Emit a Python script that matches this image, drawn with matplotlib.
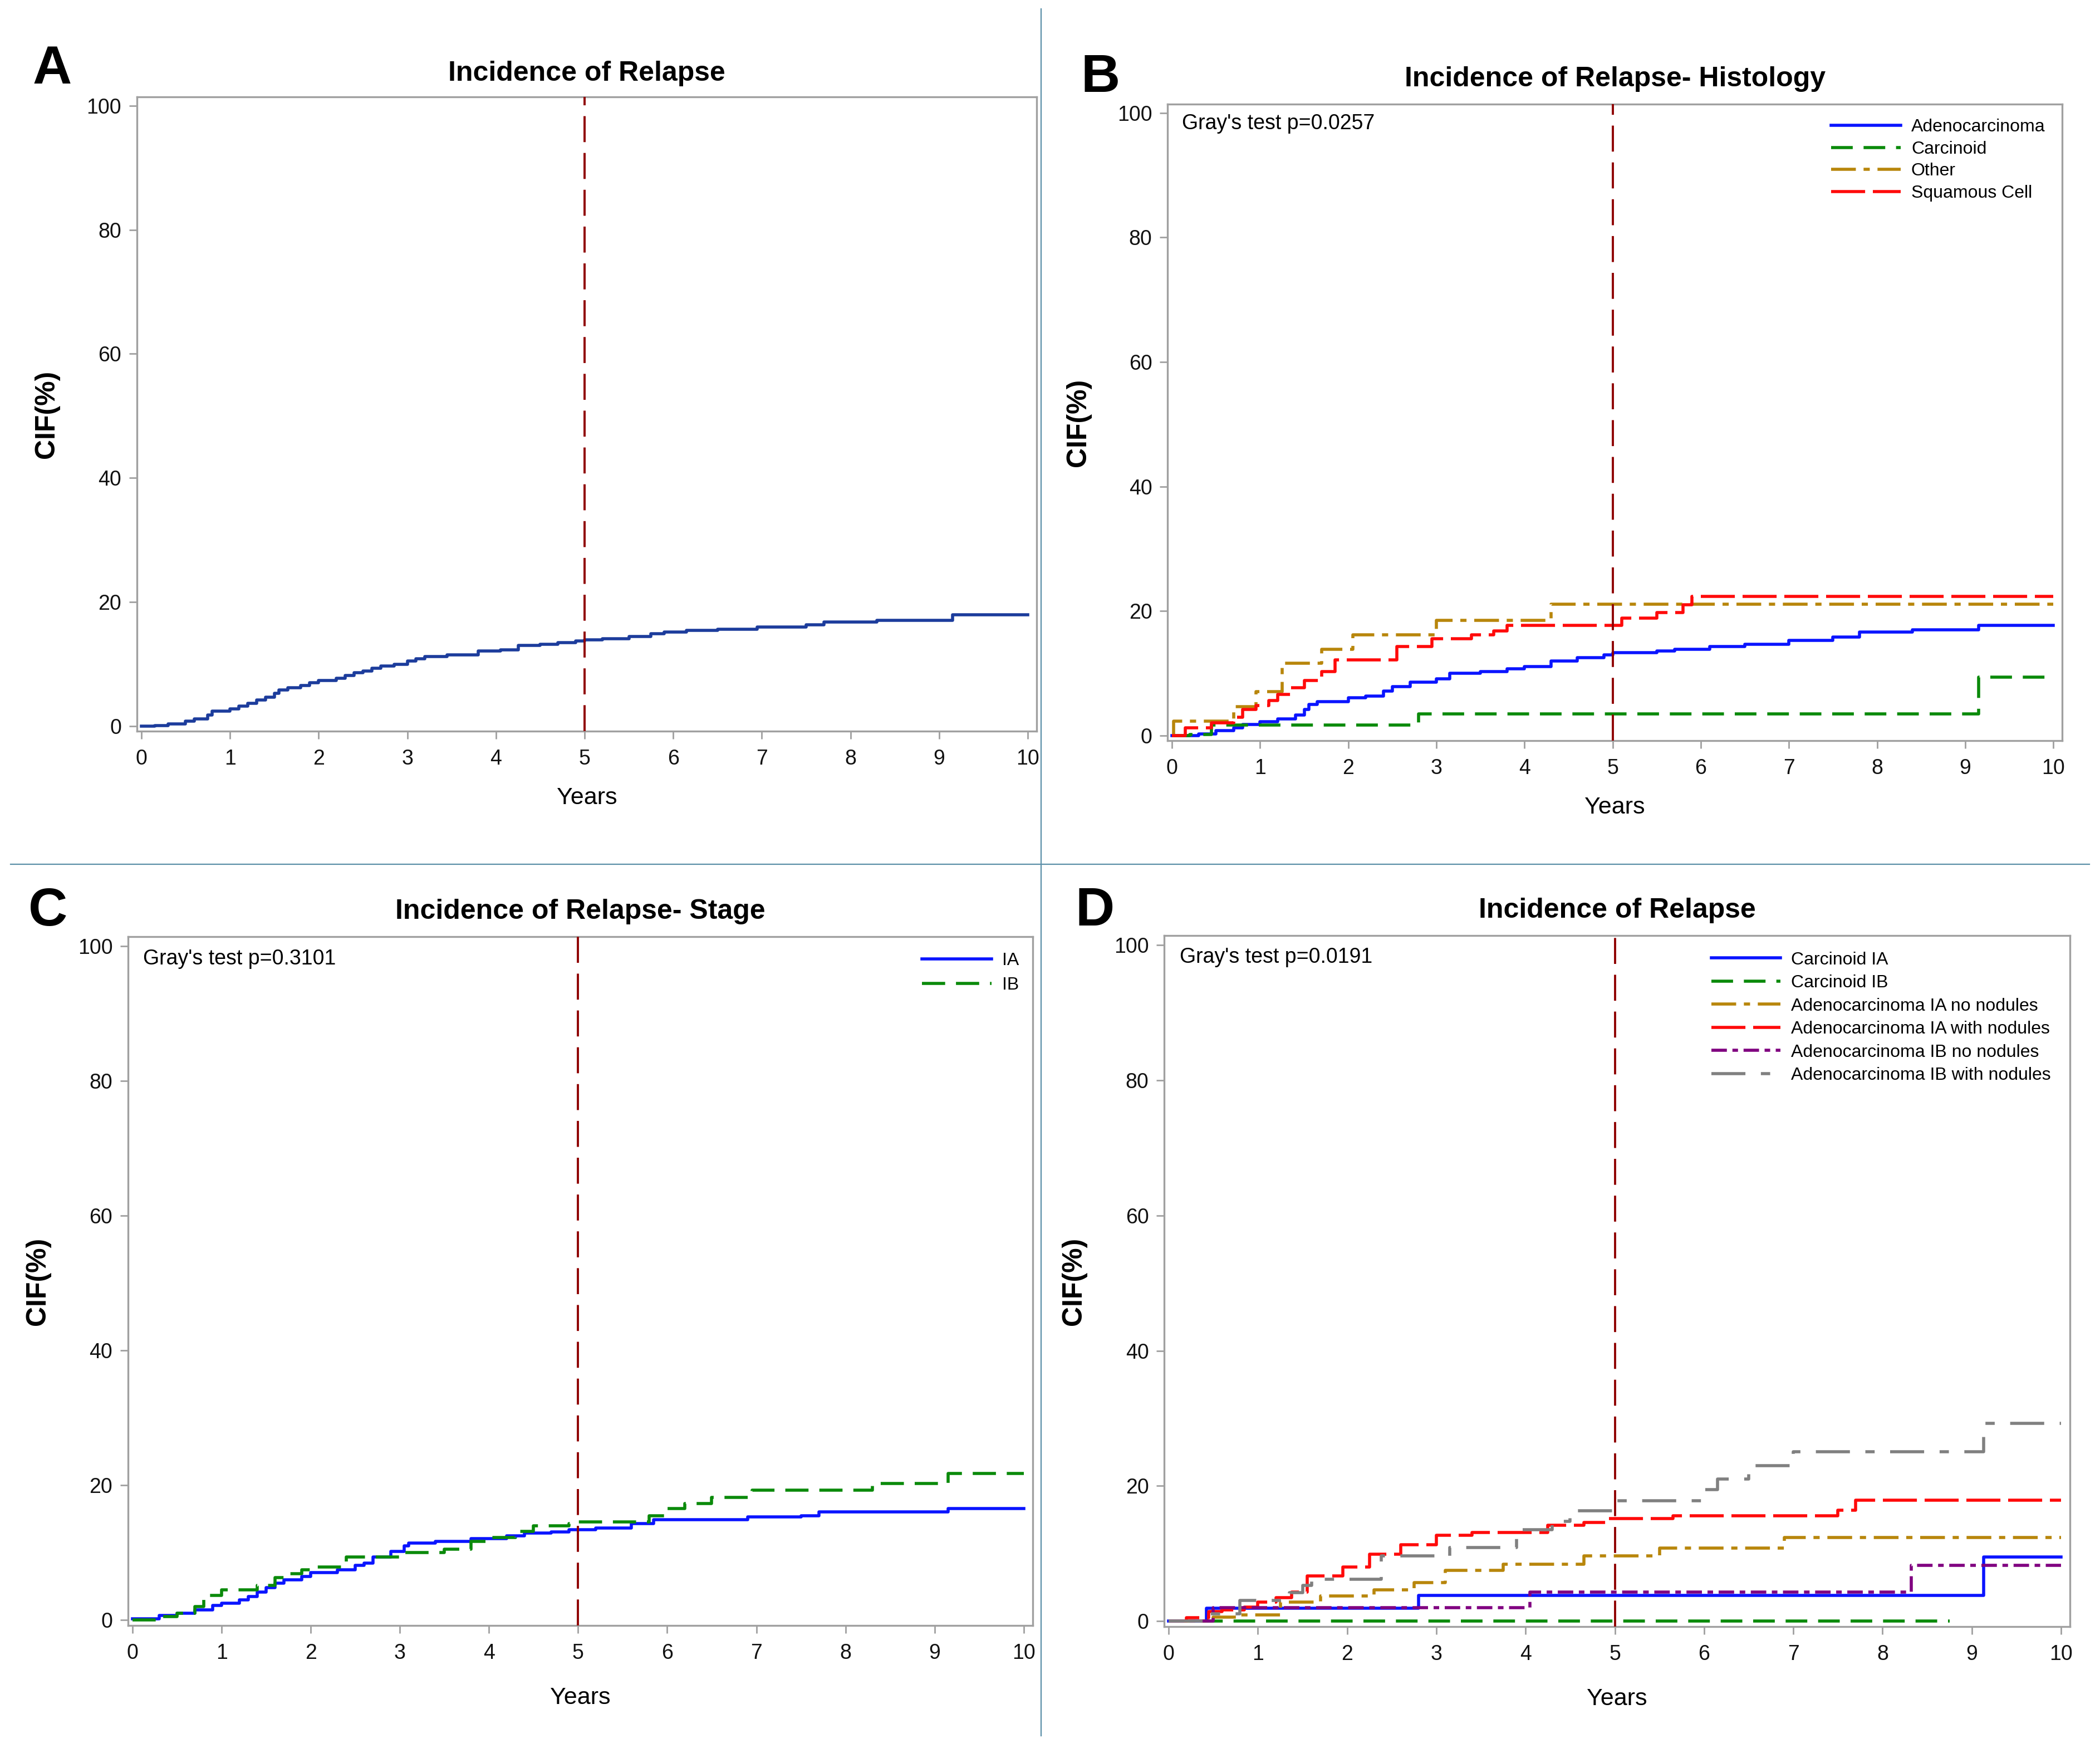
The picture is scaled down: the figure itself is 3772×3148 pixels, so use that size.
import matplotlib
matplotlib.use("Agg")
import matplotlib.pyplot as plt

plt.rcParams['font.family'] = ['Liberation Sans', 'DejaVu Sans']

# ---- data (time in years, CIF in %) ----
# Panel A: all patients
a_t = [0, 0.15, 0.3, 0.5, 0.6, 0.75, 0.8, 1.0, 1.1, 1.2, 1.3, 1.4,
       1.5, 1.55, 1.65, 1.8, 1.9, 2.0, 2.2, 2.3, 2.4, 2.5, 2.6, 2.7,
       2.85, 3.0, 3.1, 3.2, 3.45, 3.8, 4.05, 4.25, 4.5, 4.7, 4.9, 5.0,
       5.2, 5.5, 5.75, 5.9, 6.15, 6.5, 6.95, 7.5, 7.7, 8.3, 9.15, 10]
a_cif = [0, 0.1, 0.4, 0.8, 1.2, 1.8, 2.4, 2.8, 3.2, 3.7, 4.2, 4.7,
         5.3, 5.8, 6.2, 6.6, 7.0, 7.4, 7.7, 8.2, 8.6, 8.9, 9.3, 9.7,
         10.0, 10.5, 10.9, 11.2, 11.5, 12.1, 12.3, 13.0, 13.2, 13.5, 13.7, 13.9,
         14.1, 14.5, 14.9, 15.2, 15.4, 15.6, 16.0, 16.3, 16.8, 17.1, 18.0, 18.0]

# Panel B: histology
adeno_t = [0, 0.3, 0.5, 0.7, 0.8, 1.0, 1.2, 1.4, 1.5, 1.55, 1.65, 2.0,
           2.2, 2.4, 2.5, 2.7, 3.0, 3.15, 3.5, 3.8, 4.0, 4.3, 4.6, 4.9,
           5.0, 5.5, 5.7, 6.1, 6.5, 7.0, 7.5, 7.8, 8.4, 9.15, 10]
adeno_cif = [0, 0.3, 0.8, 1.3, 1.8, 2.2, 2.7, 3.3, 4.2, 5.0, 5.5, 6.1,
             6.4, 7.2, 7.9, 8.6, 9.1, 10.0, 10.3, 10.7, 11.1, 12.0, 12.5, 13.0,
             13.3, 13.6, 13.9, 14.3, 14.7, 15.3, 15.8, 16.6, 17.0, 17.7, 17.7]
carc_t = [0, 0.2, 0.45, 2.8, 9.15, 10]
carc_cif = [0, 0.2, 1.7, 3.5, 9.4, 9.4]
other_t = [0, 0.02, 0.7, 0.95, 1.25, 1.7, 2.05, 3.0, 4.3, 10]
other_cif = [0, 2.3, 4.7, 7.1, 11.6, 13.9, 16.2, 18.5, 21.1, 21.1]
squam_t = [0, 0.15, 0.45, 0.7, 0.8, 0.95, 1.1, 1.2, 1.35, 1.5, 1.7,
           1.85, 2.55, 2.95, 3.4, 3.65, 3.8, 5.1, 5.5, 5.8, 5.9, 10]
squam_cif = [0, 1.3, 2.1, 3.0, 4.2, 4.8, 5.6, 6.6, 7.7, 8.9, 10.3,
             12.2, 14.3, 15.6, 16.2, 16.8, 17.7, 18.9, 19.8, 21.0, 22.4, 22.4]

# Panel C: stage
ia_t = [0, 0.3, 0.5, 0.7, 0.9, 1.0, 1.2, 1.3, 1.4, 1.5, 1.6, 1.7,
        1.9, 2.0, 2.3, 2.5, 2.6, 2.7, 2.9, 3.05, 3.1, 3.4, 3.8, 4.2,
        4.4, 4.7, 4.9, 5.2, 5.6, 5.85, 6.9, 7.5, 7.7, 9.15, 10]
ia_cif = [0.2, 0.7, 1.0, 1.5, 2.2, 2.5, 3.0, 3.5, 4.2, 4.8, 5.5, 6.0,
          6.5, 7.1, 7.5, 8.1, 8.5, 9.4, 10.2, 11.0, 11.4, 11.7, 12.1, 12.5,
          12.9, 13.1, 13.4, 13.7, 14.3, 14.9, 15.3, 15.5, 16.1, 16.6, 16.6]
ib_t = [0, 0.3, 0.5, 0.7, 0.8, 1.0, 1.4, 1.6, 1.7, 1.9, 2.0, 2.4,
        3.0, 3.5, 3.8, 4.0, 4.3, 4.5, 4.9, 5.0, 5.8, 6.0, 6.2, 6.5,
        6.95, 8.3, 9.15, 10]
ib_cif = [0, 0.5, 1.0, 2.0, 3.7, 4.5, 5.2, 6.3, 6.9, 7.5, 7.9, 9.4,
          10.0, 10.5, 11.7, 12.3, 13.2, 14.0, 14.3, 14.6, 15.5, 16.6, 17.3, 18.2,
          19.3, 20.3, 21.8, 21.8]

# Panel D: histology x stage x nodules
cia_t = [0, 0.42, 2.8, 9.13, 10]
cia_cif = [0, 1.9, 3.8, 9.5, 9.5]
cib_t = [0, 8.75]
cib_cif = [0, 0]
aia_no_t = [0, 0.5, 0.8, 1.25, 1.7, 2.3, 2.75, 3.1, 3.75, 4.65, 5.5, 6.9, 10]
aia_no_cif = [0, 0.6, 0.9, 2.8, 3.7, 4.6, 5.7, 7.5, 8.4, 9.7, 10.8, 12.4, 12.4]
aia_nod_t = [0, 0.2, 0.45, 0.6, 0.85, 1.0, 1.2, 1.38, 1.55, 1.95, 2.25,
             2.6, 3.0, 3.4, 4.25, 4.65, 4.9, 5.65, 7.5, 7.7, 10]
aia_nod_cif = [0, 0.55, 1.4, 1.7, 2.1, 2.8, 3.5, 4.3, 6.7, 8.0, 9.9,
               11.3, 12.7, 13.1, 14.2, 14.6, 15.2, 15.6, 16.4, 17.9, 17.9]
aib_no_t = [0, 0.5, 4.05, 8.32, 10]
aib_no_cif = [0, 2.0, 4.3, 8.3, 8.3]
aib_nod_t = [0, 0.45, 0.8, 1.35, 1.5, 1.6, 2.38, 3.15, 3.9, 4.3, 4.5,
             5.0, 6.0, 6.15, 6.5, 7.0, 9.13, 10]
aib_nod_cif = [0, 1.1, 3.1, 4.2, 5.3, 6.2, 9.7, 10.9, 13.5, 14.8, 16.3,
               17.8, 19.5, 21.0, 23.0, 25.1, 29.3, 29.3]

xticks = list(range(0, 11))
yticks = [0, 20, 40, 60, 80, 100]
ref_year = 5

BLUE = '#0a14ff'
GREEN = '#0a8a0a'
GOLD = '#b8860b'
RED = '#ff0a0a'
PURPLE = '#800080'
GREY = '#808080'
LW = 4.0


def setup(ax, title, pad):
    ax.set_xlim(-0.05, 10.1)
    ax.set_ylim(-0.8, 101.4)
    ax.set_xticks(xticks)
    ax.set_yticks(yticks)
    for s in ax.spines.values():
        s.set_color('#a0a0a0')
        s.set_linewidth(2.4)
    ax.tick_params(direction='out', length=10, width=2, color='#a0a0a0',
                   labelsize=27, labelcolor='#111111')
    ax.tick_params(axis='x', pad=13)
    ax.tick_params(axis='y', pad=10)
    ax.set_title(title, fontsize=36, fontweight='bold', pad=pad)
    ax.set_xlabel('Years', fontsize=31)
    ax.set_ylabel('CIF(%)', fontsize=36, fontweight='bold')
    ax.xaxis.set_label_coords(0.5, -0.105)
    ax.xaxis.label.set_va('center')
    ax.yaxis.set_label_coords(-0.1, 0.5)
    ax.yaxis.label.set_va('center')
    ax.axvline(ref_year, color='#8f0000', lw=2.8, dashes=(12, 5), zorder=5)


def add_legend(ax, x, y, spacing):
    ax.legend(loc='upper right', bbox_to_anchor=(x, y), frameon=False,
              fontsize=23, handlelength=3.9, handletextpad=0.6,
              labelspacing=spacing, borderpad=0, borderaxespad=0)


fig = plt.figure(figsize=(37.72, 31.48), dpi=100)

# separators
fig.add_artist(plt.Line2D([0.4958, 0.4958], [0.01, 0.995], color='#5b8fa8', lw=1.6))
fig.add_artist(plt.Line2D([0.005, 0.995], [0.507, 0.507], color='#5b8fa8', lw=1.6))

# ---- A ----
axA = fig.add_axes([0.0652, 0.5829, 0.4284, 0.3618])
setup(axA, 'Incidence of Relapse', 21)
axA.step(a_t, a_cif, where='post', color='#1c3c9c', lw=LW)

# ---- B ----
axB = fig.add_axes([0.556, 0.5775, 0.426, 0.3631])
setup(axB, 'Incidence of Relapse- Histology', 23)
axB.step(adeno_t, adeno_cif, where='post', color=BLUE, lw=LW, label='Adenocarcinoma')
axB.step(carc_t, carc_cif, where='post', color=GREEN, lw=LW, dashes=(7, 3.5), label='Carcinoid')
axB.step(other_t, other_cif, where='post', color=GOLD, lw=LW, dashes=(8, 2.5, 2, 2.5), label='Other')
axB.step(squam_t, squam_cif, where='post', color=RED, lw=LW, dashes=(11, 2.5), label='Squamous Cell')
axB.text(0.016, 0.969, "Gray's test p=0.0257", transform=axB.transAxes, fontsize=27, va='center')
add_legend(axB, 0.981, 0.977, 0.3)

# ---- C ----
axC = fig.add_axes([0.061, 0.0727, 0.4307, 0.393])
setup(axC, 'Incidence of Relapse- Stage', 23)
axC.step(ia_t, ia_cif, where='post', color=BLUE, lw=LW, label='IA')
axC.step(ib_t, ib_cif, where='post', color=GREEN, lw=LW, dashes=(7.5, 3.5), label='IB')
axC.text(0.0166, 0.968, "Gray's test p=0.3101", transform=axC.transAxes, fontsize=27, va='center')
add_legend(axC, 0.985, 0.977, 0.42)

# ---- D ----
axD = fig.add_axes([0.5544, 0.0721, 0.4313, 0.3942])
setup(axD, 'Incidence of Relapse', 23)
axD.step(cia_t, cia_cif, where='post', color=BLUE, lw=LW, label='Carcinoid IA')
axD.step(cib_t, cib_cif, where='post', color=GREEN, lw=LW, dashes=(7, 3.5), label='Carcinoid IB')
axD.step(aia_no_t, aia_no_cif, where='post', color=GOLD, lw=LW, dashes=(8, 2.5, 2, 2.5),
         label='Adenocarcinoma IA no nodules')
axD.step(aia_nod_t, aia_nod_cif, where='post', color=RED, lw=LW, dashes=(11, 2.5),
         label='Adenocarcinoma IA with nodules')
axD.step(aib_no_t, aib_no_cif, where='post', color=PURPLE, lw=LW, dashes=(5, 1.8, 1.8, 1.8),
         label='Adenocarcinoma IB no nodules')
axD.step(aib_nod_t, aib_nod_cif, where='post', color=GREY, lw=LW, dashes=(11, 5, 3, 5),
         label='Adenocarcinoma IB with nodules')
axD.text(0.017, 0.969, "Gray's test p=0.0191", transform=axD.transAxes, fontsize=27, va='center')
add_legend(axD, 0.979, 0.977, 0.36)

# panel letters
for x, y, letter in [(0.0154, 0.9523, 'A'), (0.5146, 0.9476, 'B'),
                     (0.0135, 0.4720, 'C'), (0.512, 0.4720, 'D')]:
    fig.text(x, y, letter, fontsize=70, fontweight='bold', va='baseline')

fig.savefig('out.png', dpi=100)
